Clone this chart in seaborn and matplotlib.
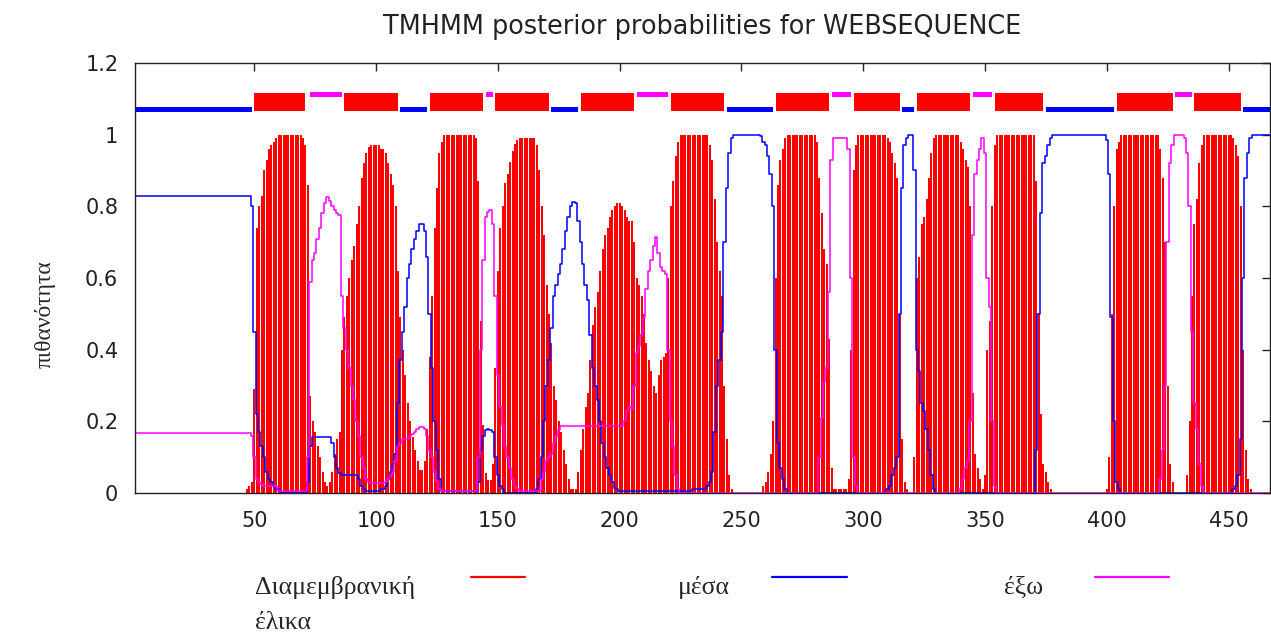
import numpy as np
import pandas as pd
import matplotlib
matplotlib.use("Agg")
import matplotlib.pyplot as plt
from matplotlib.lines import Line2D
import seaborn as sns

TITLE = "TMHMM posterior probabilities for WEBSEQUENCE"
Y_LABEL = "πιθανότητα"
LEGEND_LABELS = ["Διαμεμβρανική\nέλικα", "μέσα", "έξω"]
RED, BLUE, MAGENTA = "#ff0000", "#0000ff", "#ff00ff"

X_TICKS = [50, 100, 150, 200, 250, 300, 350, 400, 450]
Y_TICKS = [0, 0.2, 0.4, 0.6, 0.8, 1.0, 1.2]
Y_TICK_LABELS = ["0", "0.2", "0.4", "0.6", "0.8", "1", "1.2"]

# posterior probability per residue
tm_prob = (
    [0.0] * 46
    + [0.01, 0.02, 0.03, 0.29, 0.74, 0.8, 0.83, 0.9, 0.93, 0.96, 0.97, 0.98, 0.99]
    + [1.0] * 10
    + [0.99, 0.97, 0.86, 0.27, 0.2, 0.17, 0.13, 0.1, 0.06, 0.03, 0.02, 0.03, 0.06, 0.11,
       0.15, 0.17, 0.4, 0.49, 0.55, 0.6, 0.65, 0.69, 0.75, 0.8, 0.88, 0.92, 0.95, 0.965]
    + [0.97] * 4
    + [0.96, 0.96, 0.95, 0.92, 0.89, 0.86, 0.8, 0.62, 0.49, 0.4, 0.33, 0.25, 0.2, 0.155,
       0.12, 0.09, 0.065, 0.065, 0.09, 0.18, 0.38, 0.55, 0.74, 0.85, 0.95, 0.98]
    + [1.0] * 13
    + [0.99, 0.87, 0.48, 0.19, 0.055, 0.035, 0.035, 0.08, 0.35, 0.62, 0.74, 0.8, 0.865,
       0.89, 0.925, 0.955, 0.975, 0.985]
    + [0.99] * 7
    + [0.97, 0.9, 0.8, 0.72, 0.58, 0.5, 0.42, 0.3, 0.26, 0.2, 0.17, 0.12, 0.08, 0.04,
       0.01, 0.01, 0.01, 0.06, 0.12, 0.18, 0.24, 0.28, 0.37, 0.47, 0.52, 0.56, 0.62, 0.68,
       0.72, 0.74, 0.77, 0.79, 0.8, 0.81, 0.81, 0.8, 0.79, 0.77, 0.76, 0.76, 0.7, 0.6,
       0.58, 0.55, 0.5, 0.42, 0.37, 0.34, 0.3, 0.28, 0.33, 0.37, 0.38, 0.39, 0.6, 0.8,
       0.87, 0.94, 0.98]
    + [1.0] * 12
    + [0.97, 0.93, 0.82, 0.7, 0.62, 0.55, 0.3, 0.15, 0.05, 0.01]
    + [0.0] * 12
    + [0.02, 0.03, 0.06, 0.11, 0.2, 0.6, 0.86, 0.93, 0.96, 0.99]
    + [1.0] * 12
    + [0.98, 0.88, 0.78, 0.68, 0.64, 0.43, 0.07, 0.01]
    + [0.01] * 5
    + [0.04, 0.4, 0.9, 0.97]
    + [1.0] * 12
    + [0.99, 0.98, 0.95, 0.92, 0.88, 0.5, 0.15, 0.03, 0.01]
    + [0.0] * 2
    + [0.1, 0.6, 0.66, 0.75, 0.77, 0.82, 0.88, 0.95, 0.99]
    + [1.0] * 10
    + [0.98, 0.96, 0.93, 0.91, 0.8, 0.28, 0.11, 0.07, 0.04, 0.01, 0.05, 0.4, 0.48, 0.8, 0.97]
    + [1.0] * 16
    + [0.87, 0.5, 0.22, 0.08, 0.06, 0.03, 0.01]
    + [0.0] * 22
    + [0.01, 0.1, 0.5, 0.8, 0.96, 0.98]
    + [1.0] * 16
    + [0.96, 0.88, 0.7, 0.3, 0.08, 0.03]
    + [0.0] * 5
    + [0.05, 0.2, 0.55, 0.75, 0.82, 0.92, 0.97]
    + [1.0] * 12
    + [0.99, 0.97, 0.94, 0.8, 0.4, 0.12, 0.04, 0.01]
    + [0.0] * 8
)

inside_prob = (
    [0.83] * 48
    + [0.8, 0.45, 0.22, 0.17, 0.13, 0.1, 0.06, 0.04, 0.03, 0.02, 0.01, 0.01]
    + [0.0] * 11
    + [0.03, 0.13, 0.155]
    + [0.157] * 7
    + [0.14, 0.1, 0.07, 0.055]
    + [0.05] * 7
    + [0.04, 0.02, 0.01]
    + [0.005] * 6
    + [0.01, 0.01, 0.02, 0.04, 0.06, 0.08, 0.11, 0.25, 0.37, 0.45, 0.52, 0.6, 0.64,
       0.68, 0.71, 0.73, 0.75, 0.75, 0.73, 0.66, 0.5, 0.35, 0.2, 0.12, 0.04]
    + [0.005] * 15
    + [0.03, 0.12, 0.16, 0.175, 0.18, 0.175, 0.17, 0.1, 0.05, 0.02, 0.01]
    + [0.0] * 13
    + [0.01, 0.04, 0.1, 0.2, 0.3, 0.37, 0.46, 0.55, 0.58, 0.61, 0.64, 0.68, 0.73, 0.77,
       0.8, 0.813, 0.81, 0.76, 0.7, 0.64, 0.58, 0.54, 0.44, 0.35, 0.3, 0.26, 0.2, 0.14,
       0.1, 0.07, 0.05, 0.03, 0.015, 0.01]
    + [0.005] * 30
    + [0.01] * 6
    + [0.02, 0.03, 0.06, 0.17, 0.3, 0.37, 0.45, 0.7, 0.85, 0.95, 0.99]
    + [1.0] * 11
    + [0.995, 0.98, 0.97, 0.94, 0.89, 0.8, 0.4, 0.14, 0.07, 0.04, 0.01]
    + [0.0] * 41
    + [0.01, 0.02, 0.05, 0.07, 0.1, 0.5, 0.85, 0.97, 0.99]
    + [1.0] * 2
    + [0.9, 0.4, 0.34, 0.25, 0.23, 0.18, 0.12, 0.05, 0.01]
    + [0.0] * 41
    + [0.12, 0.5, 0.78, 0.92, 0.94, 0.97, 0.99]
    + [1.0] * 22
    + [0.985, 0.89, 0.49, 0.2, 0.03, 0.01]
    + [0.0] * 46
    + [0.01, 0.02, 0.05, 0.15, 0.6, 0.88, 0.95, 0.99]
    + [1.0] * 8
)

outside_prob = (
    [0.167] * 48
    + [0.16, 0.1, 0.04, 0.03, 0.025]
    + [0.02] * 6
    + [0.005] * 12
    + [0.1, 0.59, 0.65, 0.67, 0.71, 0.74, 0.78, 0.81, 0.827, 0.815, 0.8, 0.79, 0.78,
       0.776, 0.55, 0.46, 0.4, 0.35, 0.3, 0.26, 0.2, 0.16, 0.1, 0.07, 0.04, 0.03]
    + [0.027] * 6
    + [0.03, 0.04, 0.05, 0.06, 0.09, 0.13, 0.14, 0.15, 0.15, 0.15, 0.16, 0.165, 0.17,
       0.18, 0.185, 0.185, 0.18, 0.16, 0.12, 0.1, 0.06, 0.03, 0.01]
    + [0.005] * 15
    + [0.1, 0.4, 0.65, 0.77, 0.785, 0.79, 0.75, 0.55, 0.33, 0.24, 0.19, 0.13, 0.1,
       0.07, 0.04, 0.02, 0.01]
    + [0.005] * 9
    + [0.04, 0.06, 0.09, 0.1, 0.11, 0.14, 0.16, 0.175]
    + [0.187] * 26
    + [0.2, 0.23, 0.24, 0.235, 0.3, 0.39, 0.41, 0.44, 0.49, 0.57, 0.62, 0.65, 0.69,
       0.715, 0.67, 0.63, 0.62, 0.61, 0.4, 0.2, 0.13, 0.05, 0.01]
    + [0.0] * 57
    + [0.1, 0.21, 0.31, 0.35, 0.56, 0.93]
    + [0.99] * 6
    + [0.96, 0.6, 0.1, 0.02]
    + [0.0] * 42
    + [0.01, 0.04, 0.07, 0.09, 0.2, 0.72, 0.89, 0.93, 0.96, 0.99, 0.95, 0.6, 0.52,
       0.2, 0.02]
    + [0.0] * 67
    + [0.04, 0.12, 0.3, 0.7, 0.92, 0.97]
    + [1.0] * 4
    + [0.99, 0.95, 0.8, 0.45, 0.25, 0.18, 0.08, 0.02]
    + [0.0] * 28
)

# predicted topology segments
seg_start = [1, 50, 73, 87, 110, 122, 145, 149, 172, 184, 207, 221, 244,
             264, 287, 296, 316, 322, 345, 354, 375, 404, 428, 436, 456]
seg_end = [49, 71, 86, 109, 121, 144, 148, 171, 183, 206, 220, 243, 263,
           286, 295, 315, 321, 344, 353, 374, 403, 427, 435, 455, 467]
seg_kind = ["in", "TM", "out", "TM", "in", "TM", "out", "TM", "in", "TM", "out", "TM", "in",
            "TM", "out", "TM", "in", "TM", "out", "TM", "in", "TM", "out", "TM", "in"]


def main():
    n = len(tm_prob)
    assert len(inside_prob) == n and len(outside_prob) == n
    df = pd.DataFrame({"residue": np.arange(1, n + 1),
                       "tm": tm_prob, "inside": inside_prob, "outside": outside_prob})

    sns.set_theme(style="white")
    plt.rcParams["font.family"] = ["DejaVu Sans"]

    fig = plt.figure(figsize=(12.71, 6.33), dpi=100)
    ax = fig.add_axes([135 / 1271, 1 - 493 / 633, 1135 / 1271, 430 / 633])

    # transmembrane posterior as impulses
    ax.vlines(df["residue"], 0, df["tm"], colors=RED, linewidth=1.4, antialiased=False)
    sns.lineplot(data=df, x="residue", y="inside", color=BLUE, linewidth=1.1,
                 drawstyle="steps-mid", ax=ax)
    sns.lineplot(data=df, x="residue", y="outside", color=MAGENTA, linewidth=1.1,
                 drawstyle="steps-mid", ax=ax)

    # topology bar on top
    bands = {"in": ((1.063, 0.014), BLUE), "out": ((1.106, 0.014), MAGENTA),
             "TM": ((1.066, 0.05), RED)}
    for kind, (yr, col) in bands.items():
        xr = [(s, e - s) for s, e, k in zip(seg_start, seg_end, seg_kind) if k == kind]
        ax.broken_barh(xr, yr, facecolors=col, edgecolor="none")

    ax.set_xlim(1, n)
    ax.set_ylim(0, 1.2)
    ax.set_xticks(X_TICKS)
    ax.set_yticks(Y_TICKS)
    ax.set_yticklabels(Y_TICK_LABELS)
    ax.set_xlabel("")
    ax.set_ylabel("")
    ax.tick_params(direction="in", length=6, width=1, top=True, right=True,
                   labelsize=15, colors="#222222")
    ax.tick_params(axis="y", pad=12)
    ax.tick_params(axis="x", pad=13)
    for sp in ax.spines.values():
        sp.set_visible(True)
        sp.set_color("#222222")
        sp.set_linewidth(1)

    ax.set_title(TITLE, fontsize=18.4, pad=21, color="#222222")
    fig.text(45 / 1271, 1 - 314 / 633, Y_LABEL, rotation=90, ha="center", va="center",
             fontsize=17, family=["Liberation Serif", "DejaVu Serif"])

    # legend laid out below the plot like the original
    label_x = [255, 678, 1004]
    key_x = [(471, 525), (772, 847), (1095, 1169)]
    for lab, lx, (k0, k1), col in zip(LEGEND_LABELS, label_x, key_x, [RED, BLUE, MAGENTA]):
        fig.text(lx / 1271, 1 - 576 / 633, lab, ha="left", va="top", fontsize=18.5,
                 linespacing=1.75, family=["Liberation Serif", "DejaVu Serif"])
        fig.add_artist(Line2D([k0 / 1271, k1 / 1271], [1 - 577 / 633, 1 - 577 / 633],
                              color=col, linewidth=1.6, transform=fig.transFigure))

    fig.savefig("out.png", dpi=100)


if __name__ == "__main__":
    main()
